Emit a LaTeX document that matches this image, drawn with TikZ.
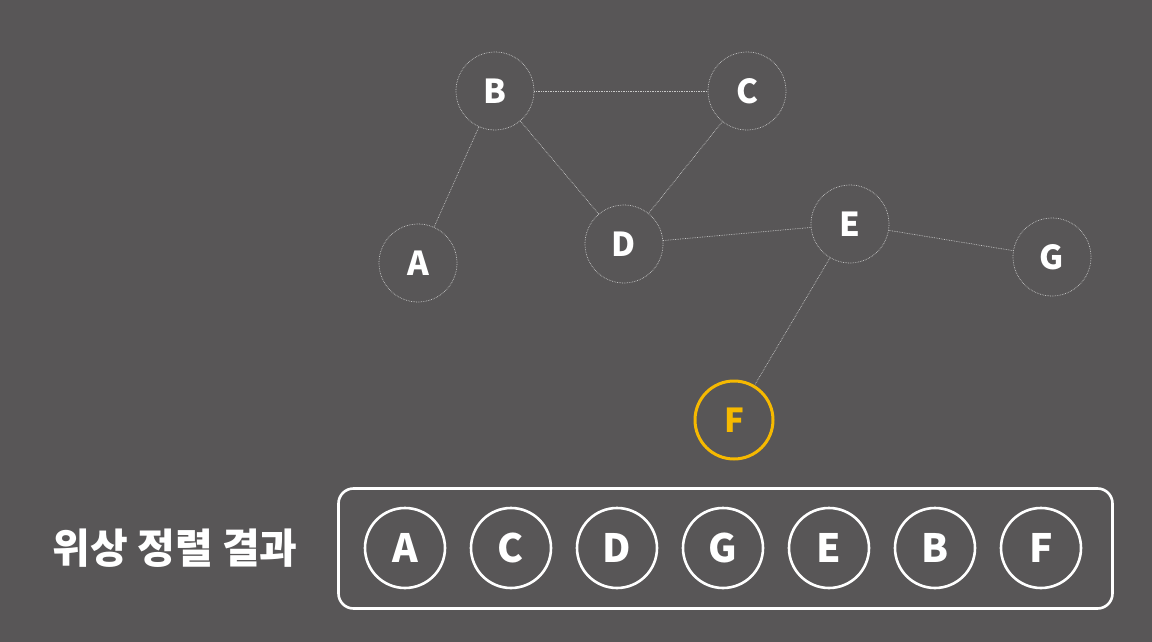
\documentclass[tikz,border=0pt]{standalone}
\usepackage{fontspec}
\setmainfont{Noto Sans CJK KR}
\definecolor{bgcol}{HTML}{585657}
\definecolor{linecol}{HTML}{C8C8C8}
\definecolor{hilite}{HTML}{F6B900}

\tikzstyle{vertex} = [circle, minimum size=78pt, inner sep=0pt, draw=linecol, densely dotted, line width=0.7pt, text=white, font=\fontsize{33}{36}\selectfont\bfseries]
\tikzstyle{current} = [circle, minimum size=78pt, inner sep=0pt, draw=hilite, line width=3pt, text=hilite, font=\fontsize{33}{36}\selectfont\bfseries]
\tikzstyle{result} = [circle, minimum size=80pt, inner sep=0pt, draw=white, line width=2.6pt, text=white, font=\fontsize{39}{42}\selectfont\bfseries]
\tikzstyle{edge} = [linecol, densely dotted, line width=0.7pt]

\begin{document}
\begin{tikzpicture}[x=1pt, y=-1pt, node distance=106pt]
			\fill [bgcol] (0,0) rectangle (1152,642);
			\useasboundingbox (0,0) rectangle (1152,642);
			\node (B) [vertex] at (495,91) {B};
			\node (C) [vertex] at (747,91) {C};
			\node (A) [vertex] at (418,263) {A};
			\node (D) [vertex] at (624,244) {D};
			\node (E) [vertex] at (850,224) {E};
			\node (G) [vertex] at (1052,257) {G};
			\node (F) [current] at (734,420) {F};
			
			\node (box) [rectangle, rounded corners=15pt, draw=white, line width=2.6pt, minimum width=774pt, minimum height=120pt] at (725.5,548.5) {};
			\node (title) [text=white, font=\fontsize{41}{44}\selectfont\bfseries] at (175,548) {위상 정렬 결과};
			\node (rA) [result] at (405,548) {A};
			\node (rC) [result, right of=rA] {C};
			\node (rD) [result, right of=rC] {D};
			\node (rG) [result, right of=rD] {G};
			\node (rE) [result, right of=rG] {E};
			\node (rB) [result, right of=rE] {B};
			\node (rF) [result, right of=rB] {F};
			
			\draw [edge] (A) -- (B);
			\draw [edge] (B) -- (C);
			\draw [edge] (B) -- (D);
			\draw [edge] (C) -- (D);
			\draw [edge] (D) -- (E);
			\draw [edge] (E) -- (G);
			\draw [edge] (E) -- (F);
			
		\end{tikzpicture}
\end{document}
